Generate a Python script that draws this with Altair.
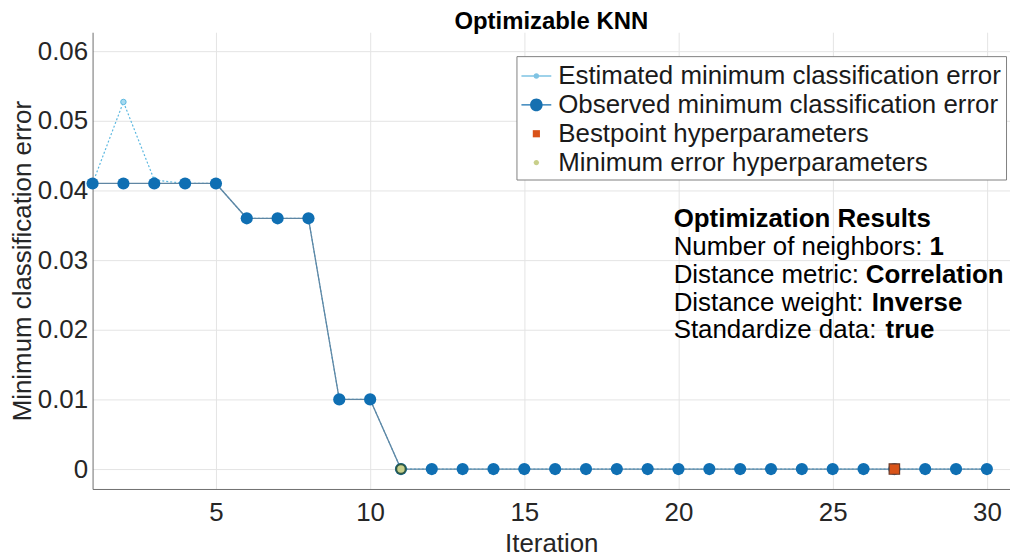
import altair as alt
import pandas as pd

# ---------------- data ----------------
iterations = list(range(1, 31))
observed_min_error = [0.041, 0.041, 0.041, 0.041, 0.041, 0.036, 0.036, 0.036, 0.010, 0.010] + [0.0] * 20
estimated_min_error = [0.041, 0.0527, 0.0415, 0.041, 0.041, 0.036, 0.036, 0.036, 0.010, 0.010] + [0.0] * 20
best_point_iter = [27]
best_point_err = [0.0]
min_error_iter = [11]
min_error_err = [0.0]

series = [
    "Estimated minimum classification error",
    "Observed minimum classification error",
    "Bestpoint hyperparameters",
    "Minimum error hyperparameters",
]
series_fill = ["#7fc3e3", "#1670b0", "#D95319", "#c8cf8a"]

result_title = "Optimization Results"
result_labels = ["Number of neighbors: ", "Distance metric: ", "Distance weight: ", "Standardize data: "]
result_values = ["1", "Correlation", "Inverse", "true"]

x_ticks = [5, 10, 15, 20, 25, 30]
y_ticks = [0, 0.01, 0.02, 0.03, 0.04, 0.05, 0.06]

# ---------------- tables ----------------
obs_df = pd.DataFrame({"iter": iterations, "err": observed_min_error})
est_df = pd.DataFrame({"iter": iterations, "err": estimated_min_error})
best_df = pd.DataFrame({"iter": best_point_iter, "err": best_point_err})
minerr_df = pd.DataFrame({"iter": min_error_iter, "err": min_error_err})
legend_df = pd.DataFrame({"iter": [None] * 4, "err": [None] * 4, "series": series})

FONT = "Liberation Sans"
W, H = 922, 459

x_enc = alt.X(
    "iter:Q",
    scale=alt.Scale(domain=[1, 30.75], nice=False, zero=False),
    axis=alt.Axis(
        values=x_ticks, title="Iteration", grid=True, gridColor="#e4e4e4",
        domainColor="#6e6e6e", ticks=False, labelFontSize=26, labelFont=FONT,
        labelColor="#262626", titleFont=FONT, titleFontSize=26, titleFontWeight="normal",
        titleColor="#262626", labelPadding=11, titlePadding=5, labelFlush=False,
    ),
)
y_enc = alt.Y(
    "err:Q",
    scale=alt.Scale(domain=[-0.00286, 0.06271], nice=False, zero=False),
    axis=alt.Axis(
        values=y_ticks, format=".2~f", title="Minimum classification error", grid=True,
        gridColor="#e4e4e4", domainColor="#6e6e6e", ticks=False, labelFontSize=26,
        labelFont=FONT, labelColor="#262626", titleFont=FONT, titleFontSize=26,
        titleFontWeight="normal", titleColor="#262626", labelPadding=5, titlePadding=2,
        labelFlush=False,
    ),
)

est_line = alt.Chart(est_df).mark_line(
    color="#5cb8e0", strokeWidth=1.2, strokeDash=[2, 2]
).encode(x=x_enc, y=y_enc)

obs_line = alt.Chart(obs_df).mark_line(
    color="#5f86a3", strokeWidth=1.3
).encode(x="iter:Q", y="err:Q")

est_pts = alt.Chart(est_df).mark_point(
    filled=True, fill="#a9daf0", stroke="#5cb8e0", strokeWidth=1, size=30, opacity=1
).encode(x="iter:Q", y="err:Q")

obs_pts = alt.Chart(obs_df).mark_point(
    filled=True, color="#0f6fb3", size=150, opacity=1
).encode(x="iter:Q", y="err:Q")

minerr_pts = alt.Chart(minerr_df).mark_point(
    filled=True, fill="#c8cf8a", stroke="#2f5a48", strokeWidth=2, size=90, opacity=1
).encode(x="iter:Q", y="err:Q")

best_pts = alt.Chart(best_df).mark_point(
    shape="square", filled=True, fill="#D95319", stroke="#6b3b2a", strokeWidth=1.2, size=110, opacity=1
).encode(x="iter:Q", y="err:Q")

# legend glyphs: a thin bar (the line) plus a marker, in the unit box [-1, 1]
legend_paths = [
    "M-1,-0.045H1V0.045H-1Z M-0.19,0A0.19,0.19,0,1,1,0.19,0A0.19,0.19,0,1,1,-0.19,0Z",
    "M-1,-0.045H1V0.045H-1Z M-0.42,0A0.42,0.42,0,1,1,0.42,0A0.42,0.42,0,1,1,-0.42,0Z",
    "M-0.24,-0.24H0.24V0.24H-0.24Z",
    "M-0.18,0A0.18,0.18,0,1,1,0.18,0A0.18,0.18,0,1,1,-0.18,0Z",
]

leg = dict(
    title=None, orient="none", legendX=426, legendY=24, labelFont=FONT, labelFontSize=26,
    labelColor="#1a1a1a", labelLimit=800, symbolSize=900, padding=4, labelOffset=6,
    rowPadding=0, strokeColor="#808080", fillColor="white", symbolOpacity=1,
)

legend_layer = alt.Chart(legend_df).mark_point(filled=True, opacity=1).encode(
    x="iter:Q",
    y="err:Q",
    color=alt.Color("series:N", scale=alt.Scale(domain=series, range=series_fill), legend=alt.Legend(**leg)),
    shape=alt.Shape("series:N", scale=alt.Scale(domain=series, range=legend_paths), legend=alt.Legend(**leg)),
)

dummy = pd.DataFrame({"a": [0]})
texts = [
    alt.Chart(dummy).mark_text(
        text=result_title, font=FONT, fontSize=26, fontWeight="bold", align="left",
        baseline="alphabetic", color="#000000"
    ).encode(x=alt.value(584), y=alt.value(196))
]
label_y = [224, 252, 280, 307]
value_x = [841, 777, 783, 797]
for lab, val, yy, vx in zip(result_labels, result_values, label_y, value_x):
    texts.append(alt.Chart(dummy).mark_text(
        text=lab, font=FONT, fontSize=26, align="left", baseline="alphabetic", color="#000000"
    ).encode(x=alt.value(584), y=alt.value(yy)))
    texts.append(alt.Chart(dummy).mark_text(
        text=val, font=FONT, fontSize=26, fontWeight="bold", align="left", baseline="alphabetic", color="#000000"
    ).encode(x=alt.value(vx), y=alt.value(yy)))

chart = alt.layer(
    est_line, obs_line, est_pts, obs_pts, minerr_pts, best_pts, legend_layer, *texts
).properties(
    width=W,
    height=H,
    padding={"left": 85, "top": 23, "right": 0, "bottom": 68},
    autosize=alt.AutoSizeParams(type="none"),
    title=alt.Title("Optimizable KNN", font=FONT, fontSize=24, fontWeight="bold",
                    anchor="middle", offset=-2, color="#000000"),
).configure_view(stroke=None)

chart.save("out.html", embed_options={"renderer": "svg", "actions": False})
